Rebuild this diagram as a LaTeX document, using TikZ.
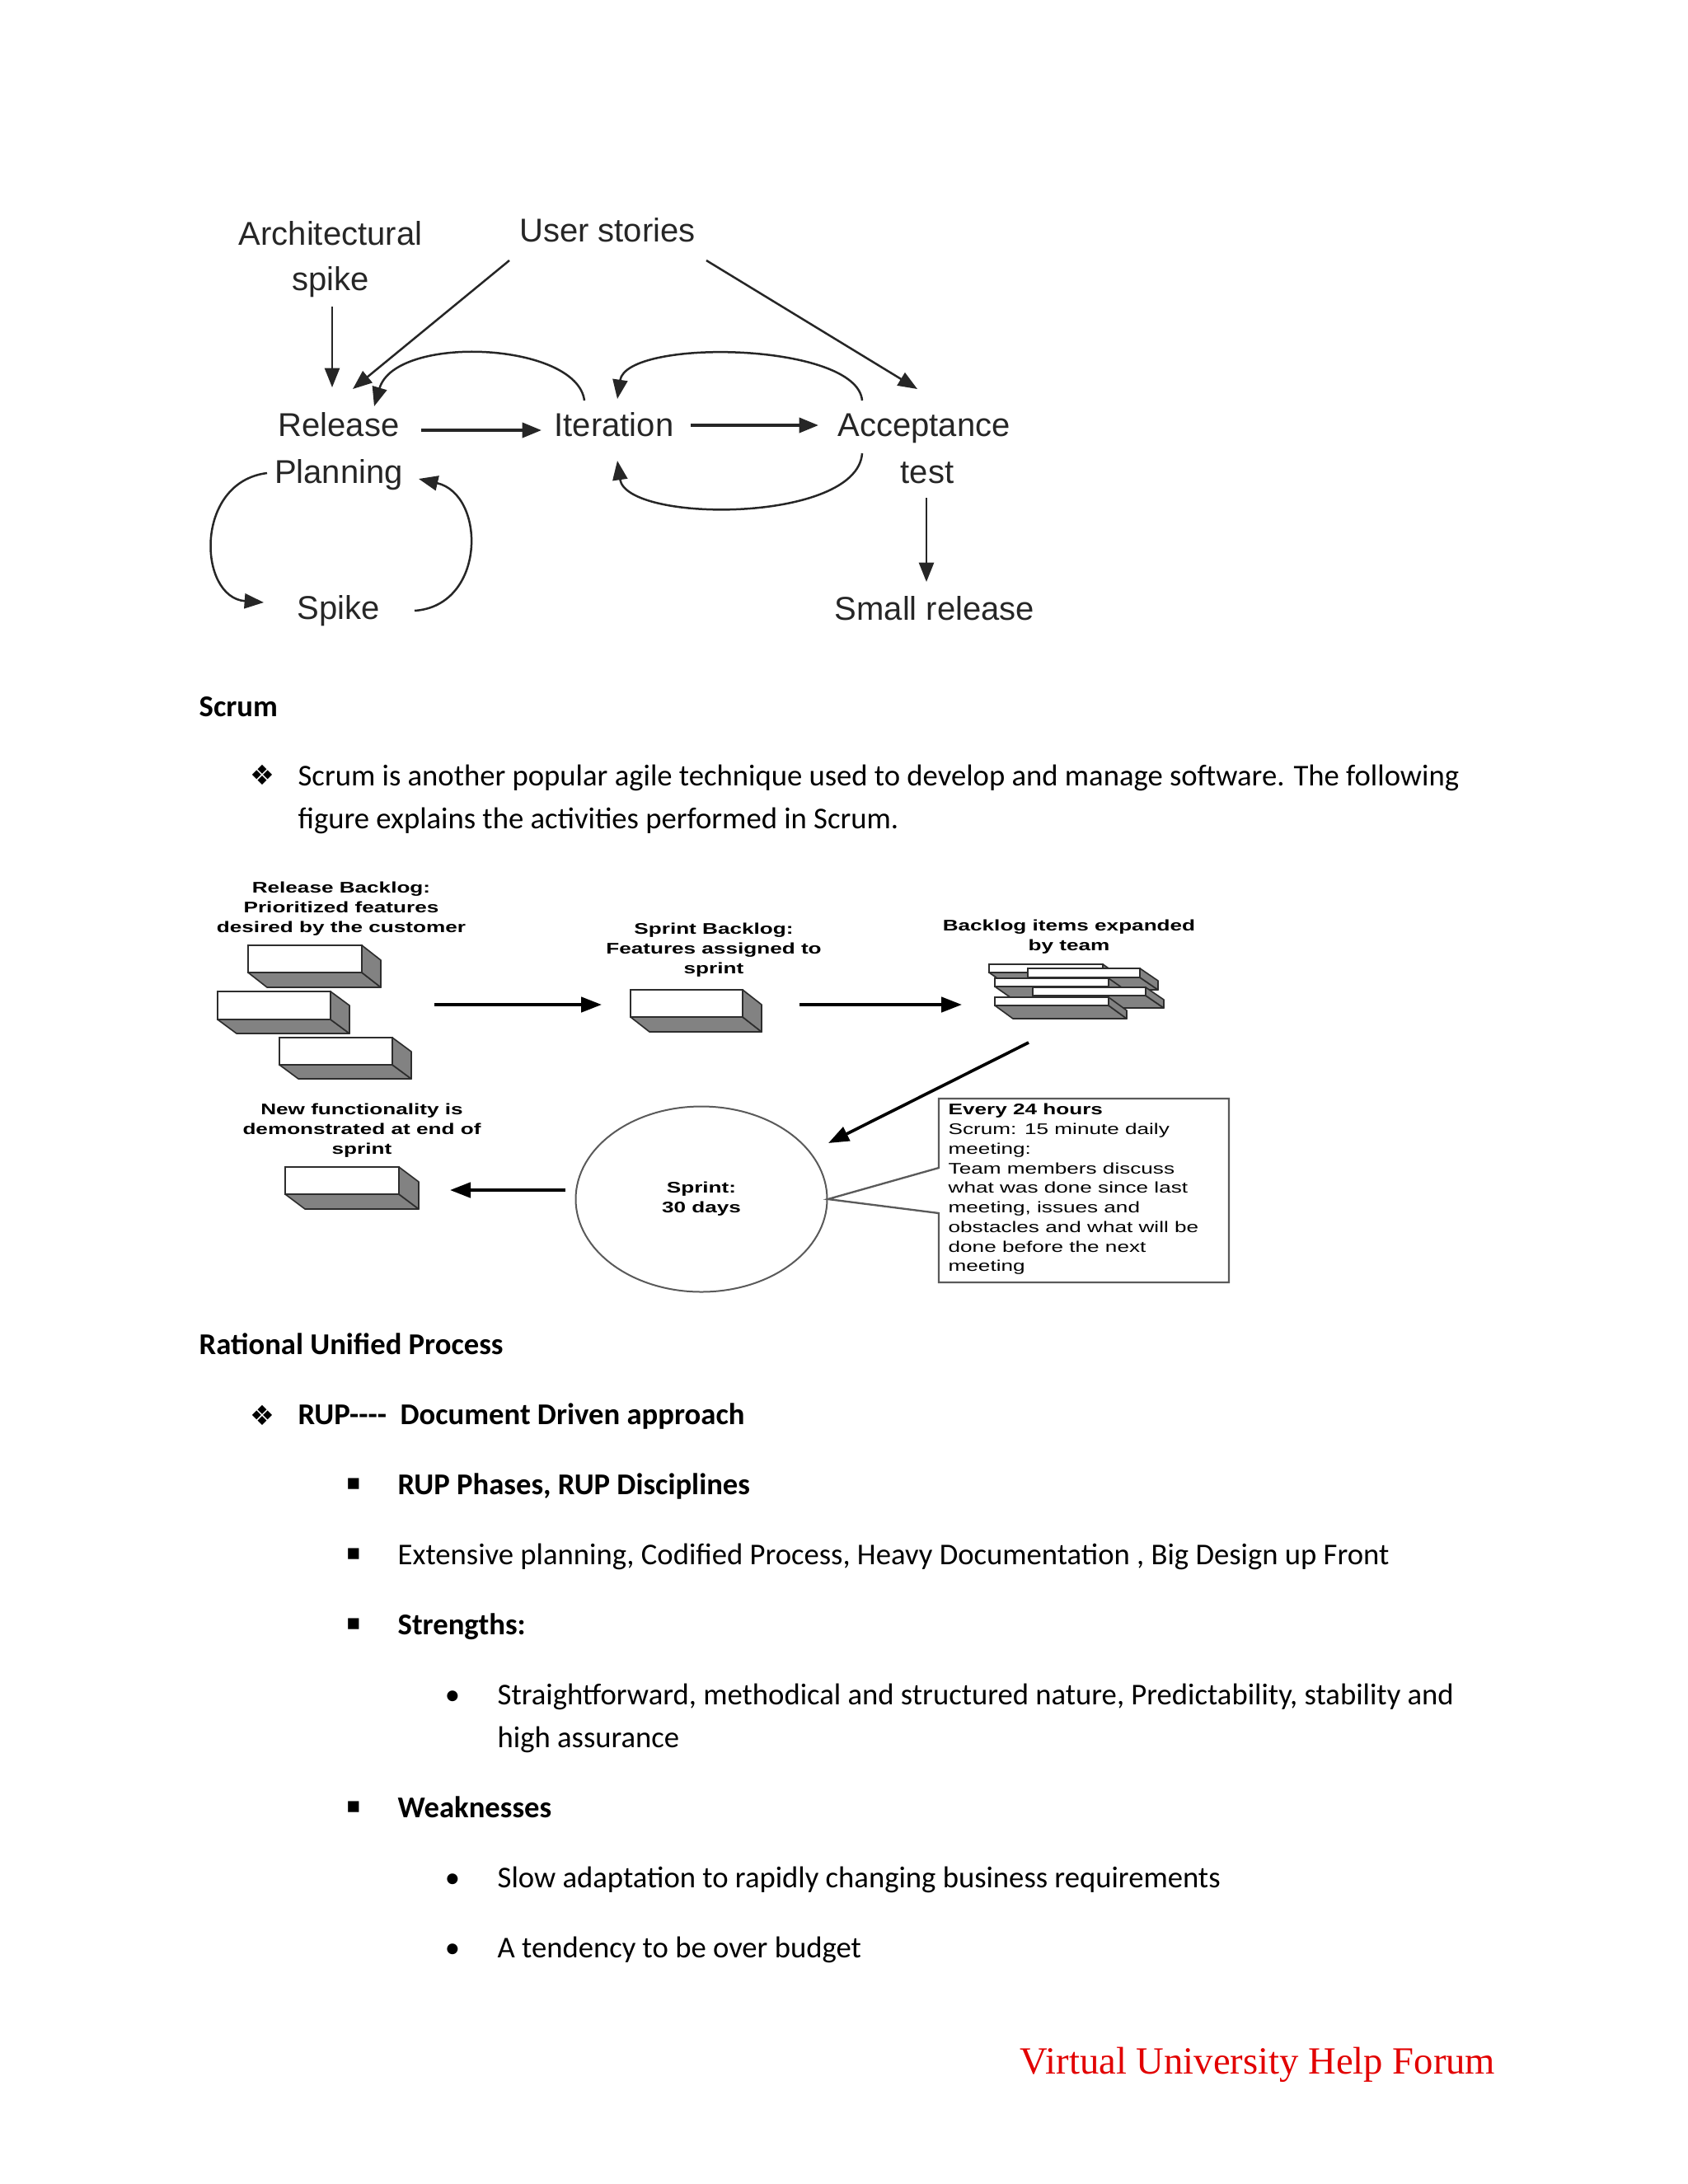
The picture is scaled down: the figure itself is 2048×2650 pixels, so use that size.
\documentclass[tikz,border=0pt]{standalone}
\usepackage{fontspec}
\setmainfont{Carlito}
\newfontfamily\topfont{Liberation Sans}
\newfontfamily\scrumfont[FakeStretch=1.4]{Liberation Sans}
\newfontfamily\symfont{DejaVu Sans}
\newfontfamily\vufont{Liberation Serif}
\usetikzlibrary{arrows.meta,shapes.geometric}
\definecolor{facegray}{RGB}{130,130,130}
\definecolor{edgec}{RGB}{45,45,45}
\definecolor{boxc}{RGB}{90,90,90}
\definecolor{vured}{RGB}{226,0,0}
\newcommand\featbox[7]{%
 \filldraw[face] (#2,#3+#5) -- (#2+#4,#3+#5) -- (#2+#4+#6,#3+#5+#7) -- (#2+#6,#3+#5+#7) -- cycle;
 \filldraw[face] (#2+#4,#3) -- (#2+#4+#6,#3+#7) -- (#2+#4+#6,#3+#5+#7) -- (#2+#4,#3+#5) -- cycle;
 \node[front, minimum width=#4*0.3pt, minimum height=#5*0.3pt] (#1) at (#2,#3) {};
}
\begin{document}
\begin{tikzpicture}[x=0.3pt,y=-0.3pt,
  face/.style={fill=facegray, draw=edgec, line width=0.5pt, line join=round},
  front/.style={fill=white, draw=edgec, line width=0.5pt, anchor=north west, inner sep=0, outer sep=0},
  topt/.style={font=\topfont\fontsize{12}{14}\selectfont, anchor=base, inner sep=0, text=black!85},
  tarr/.style={-{Triangle[length=7pt,width=5.4pt]}, line width=0.75pt, draw=black!85},
  warr/.style={tarr, line width=1.1pt},
  sarr/.style={-{Triangle[length=7.5pt,width=5.5pt]}, line width=1.1pt},
  slab/.style={font=\scrumfont\bfseries\fontsize{5.6}{7.2}\selectfont, align=center, inner sep=0},
  body/.style={anchor=base west, inner sep=0, font=\fontsize{11}{13}\selectfont},
  bodyb/.style={anchor=base west, inner sep=0, font=\bfseries\fontsize{11}{13}\selectfont},
  dia/.style={font=\symfont\fontsize{10}{12}\selectfont, inner sep=0},
  sq/.style={font=\symfont\fontsize{8}{10}\selectfont, inner sep=0},
  dot/.style={anchor=base, inner sep=0, font=\fontsize{11}{13}\selectfont}]
\useasboundingbox (0,0) rectangle (2048,2650);
\fill[white] (0,0) rectangle (2048,2650);

% ---------- XP diagram ----------
\node[topt] (arch1) at (401,297) {Architectural};
\node[topt] (arch2) at (401,352) {spike};
\node[topt] (us) at (737,293) {User stories};
\node[topt] (rel1) at (411,529) {Release};
\node[topt] (rel2) at (411,586) {Planning};
\node[topt] (iter) at (745,529) {Iteration};
\node[topt] (acc1) at (1121,529) {Acceptance};
\node[topt] (acc2) at (1125,586) {test};
\node[topt] (small) at (1134,752) {Small release};
\node[topt] (spike) at (411,751) {Spike};

\coordinate (asS) at (403,372); \coordinate (asE) at (403,470);
\coordinate (ulS) at (618,316); \coordinate (ulE) at (428,472);
\coordinate (urS) at (857,316); \coordinate (urE) at (1113,472);
\coordinate (riS) at (511,522); \coordinate (riE) at (657,522);
\coordinate (iaS) at (838,516); \coordinate (iaE) at (993,516);
\coordinate (tsS) at (1124,604); \coordinate (tsE) at (1124,706);
\coordinate (c1S) at (709,486); \coordinate (c1E) at (454,493);
\coordinate (c2S) at (1046,486); \coordinate (c2E) at (749,484);
\coordinate (c3S) at (1046,550); \coordinate (c3E) at (749,559);
\coordinate (c4S) at (324,574); \coordinate (c4E) at (320,731);
\coordinate (c5S) at (503,741); \coordinate (c5E) at (508,581);

\draw[tarr] (asS) -- (asE);
\draw[tarr] (ulS) -- (ulE);
\draw[tarr] (urS) -- (urE);
\draw[warr] (riS) -- (riE);
\draw[warr] (iaS) -- (iaE);
\draw[tarr] (tsS) -- (tsE);
\draw[tarr] (c1S) .. controls (700,415) and (480,405) .. (c1E);
\draw[tarr] (c2S) .. controls (1040,415) and (760,410) .. (c2E);
\draw[tarr] (c3S) .. controls (1040,635) and (760,635) .. (c3E);
\draw[tarr] (c4S) .. controls (235,585) and (240,725) .. (c4E);
\draw[tarr] (c5S) .. controls (590,735) and (590,600) .. (c5E);

% ---------- Text ----------
\node[bodyb] (hscrum) at (241,869) {Scrum};
\node[dia] (d1) at (318,940) {❖};
\node[body] (s1) at (361,953) {Scrum is another popular agile technique used to develop and manage software. The following};
\node[body] (s2) at (361,1005) {figure explains the activities performed in Scrum.};

% ---------- Scrum diagram ----------
\node[slab] (lrb) at (414,1103) {Release Backlog:\\Prioritized features\\desired by the customer};
\featbox{rb1}{301}{1147}{138}{33}{23}{18}
\featbox{rb2}{264}{1203}{137}{34}{23}{17}
\featbox{rb3}{339}{1259}{137}{33}{23}{17}
\node[slab] (lsb) at (866,1153) {Sprint Backlog:\\Features assigned to\\sprint};
\featbox{sb}{765}{1201}{136}{33}{23}{18}
\node[slab] (lex) at (1297,1137) {Backlog items expanded\\by team};
\featbox{ex1}{1200}{1170}{138}{10}{20}{14}
\featbox{ex2}{1247}{1175}{136}{11}{22}{15}
\featbox{ex3}{1207}{1187}{138}{10}{20}{14}
\featbox{ex4}{1253}{1198}{137}{10}{22}{15}
\featbox{ex5}{1207}{1210}{138}{10}{22}{16}
\node[slab] (lnf) at (439,1372) {New functionality is\\demonstrated at end of\\sprint};
\featbox{nf}{346}{1416}{138}{33}{24}{18}

\node[ellipse, draw=boxc, line width=0.6pt, minimum width=305*0.3pt, minimum height=225*0.3pt, inner sep=0,
      font=\scrumfont\bfseries\fontsize{5.6}{7.2}\selectfont, align=center] (sprint) at (851,1455) {Sprint:\\30 days};
\node[anchor=west, inner sep=0, align=left, font=\scrumfont\fontsize{5.6}{7.13}\selectfont] (meet) at (1150,1443)
 {\textbf{Every 24 hours}\\Scrum: 15 minute daily\\meeting:\\Team members discuss\\what was done since last\\meeting, issues and\\obstacles and what will be\\done before the next\\meeting};
\draw[boxc, line width=0.7pt, line join=miter] (1139,1417) -- (1139,1333) -- (1491,1333) -- (1491,1556) -- (1139,1556) -- (1139,1472) -- (sprint.east) -- cycle;

\coordinate (a1S) at (527,1219); \coordinate (a1E) at (730,1219);
\coordinate (a2S) at (970,1219); \coordinate (a2E) at (1167,1219);
\coordinate (a3S) at (1248,1265); \coordinate (a3E) at (1005,1387);
\coordinate (a4E) at (546,1444);
\draw[sarr] (a1S) -- (a1E);
\draw[sarr] (a2S) -- (a2E);
\draw[sarr] (a3S) -- (a3E);
\draw[sarr] (sprint.west) ++(-12,-11) -- (a4E);

% ---------- RUP ----------
\node[bodyb] (hrup) at (241,1643) {Rational Unified Process};
\node[dia] (d2) at (318,1717) {❖};
\node[bodyb] (r1) at (361,1728) {RUP{-}{-}{-}{-}~~Document Driven approach};
\node[sq] (q1) at (429,1801) {▪};
\node[bodyb] (r2) at (482,1813) {RUP Phases, RUP Disciplines};
\node[sq] (q2) at (429,1886) {▪};
\node[body] (r3) at (482,1898) {Extensive planning, Codified Process, Heavy Documentation , Big Design up Front};
\node[sq] (q3) at (429,1971) {▪};
\node[bodyb] (r4) at (482,1983) {Strengths:};
\node[dot] (b1) at (549,2068) {•};
\node[body] (r5) at (603,2068) {Straightforward, methodical and structured nature, Predictability, stability and};
\node[body] (r6) at (603,2120) {high assurance};
\node[sq] (q4) at (429,2193) {▪};
\node[bodyb] (r7) at (482,2205) {Weaknesses};
\node[dot] (b2) at (549,2290) {•};
\node[body] (r8) at (603,2290) {Slow adaptation to rapidly changing business requirements};
\node[dot] (b3) at (549,2375) {•};
\node[body] (r9) at (603,2375) {A tendency to be over budget};

\node[anchor=base west, inner sep=0, font=\vufont\fontsize{14}{16}\selectfont, text=vured] (vu) at (1237,2516) {Virtual University Help Forum};
\end{tikzpicture}
\end{document}
